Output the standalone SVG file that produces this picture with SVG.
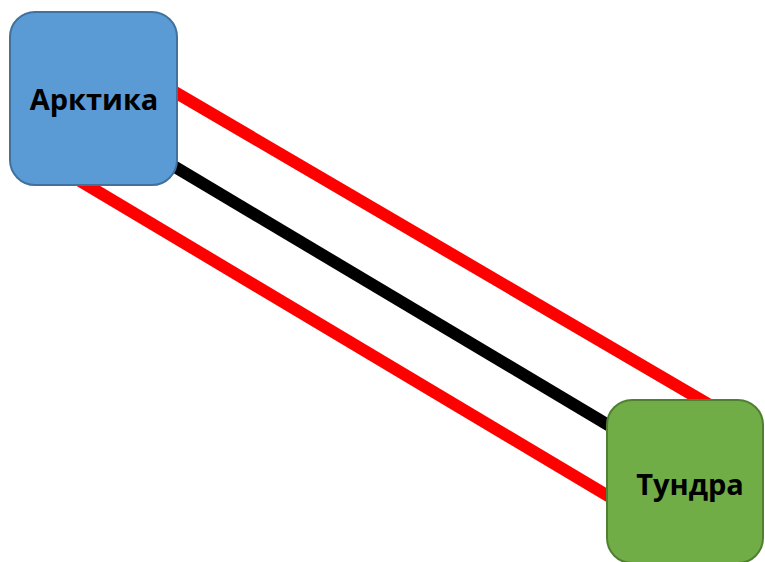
<svg xmlns="http://www.w3.org/2000/svg" width="765" height="562" viewBox="0 0 765 562">
<style>
.lbl{font-family:"Open Sans","Liberation Sans",sans-serif;font-weight:bold;font-size:29px;fill:#000;text-anchor:middle}
.red{stroke:#FF0000;stroke-width:12;fill:none}
.blk{stroke:#000;stroke-width:12;fill:none}
</style>
<rect width="765" height="562" fill="#fff"/>
<g id="connectors">
<line class="red" x1="150" y1="77.5" x2="720" y2="411"/>
<line class="blk" x1="150" y1="152" x2="640" y2="444"/>
<line class="red" x1="60" y1="169" x2="640" y2="515"/>
</g>
<g id="arktika">
<rect x="10" y="12" width="167" height="173" rx="25" ry="25" fill="#5B9BD5" stroke="#41719C" stroke-width="2"/>
<text class="lbl" x="94" y="110">Арктика</text>
</g>
<g id="tundra">
<rect x="607" y="400" width="156" height="163" rx="25" ry="25" fill="#70AD47" stroke="#507E32" stroke-width="2"/>
<text class="lbl" x="690" y="495">Тундра</text>
</g>
</svg>
